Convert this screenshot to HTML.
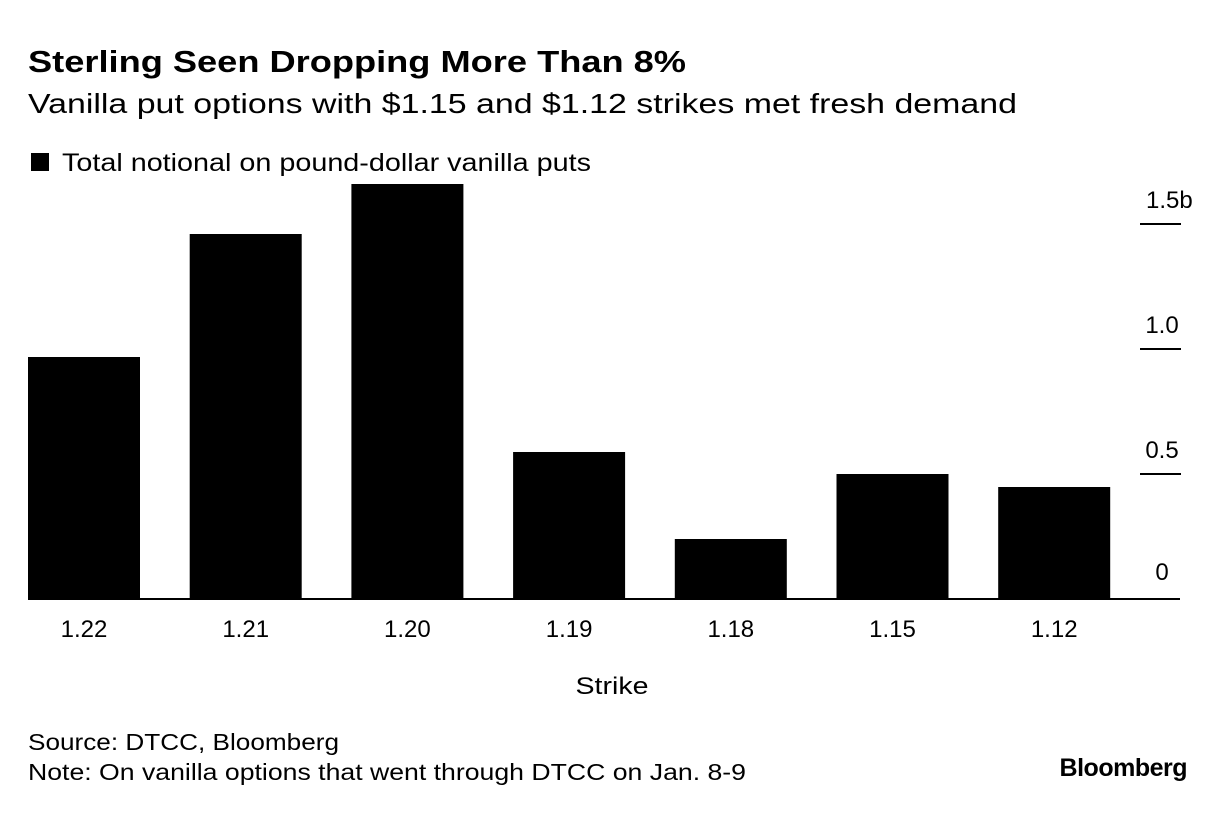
<!DOCTYPE html>
<html><head><meta charset="utf-8"><style>
body{margin:0;background:#fff;width:1225px;height:826px;overflow:hidden;font-family:"Liberation Sans",sans-serif;color:#000}
svg{position:absolute;left:0;top:0}
</style></head><body>
<svg width="1225" height="826">
<text x="28" y="72" font-size="31" font-weight="bold" textLength="658" lengthAdjust="spacingAndGlyphs">Sterling Seen Dropping More Than 8%</text>
<text x="28" y="113" font-size="28" textLength="989" lengthAdjust="spacingAndGlyphs">Vanilla put options with $1.15 and $1.12 strikes met fresh demand</text>
<rect x="31" y="153" width="18" height="18" fill="#000"/>
<text x="62" y="171" font-size="25" textLength="529" lengthAdjust="spacingAndGlyphs">Total notional on pound-dollar vanilla puts</text>
<g id="bars"></g>
<g id="yaxis"></g>
<g id="xaxis"></g>
<line x1="28" y1="599" x2="1180" y2="599" stroke="#000" stroke-width="2"/>
<text x="612" y="694" font-size="24" text-anchor="middle" textLength="73" lengthAdjust="spacingAndGlyphs">Strike</text>
<text x="28" y="750" font-size="23" textLength="311" lengthAdjust="spacingAndGlyphs">Source: DTCC, Bloomberg</text>
<text x="28" y="780" font-size="23" textLength="718" lengthAdjust="spacingAndGlyphs">Note: On vanilla options that went through DTCC on Jan. 8-9</text>
<text x="1187" y="776" font-size="25" font-weight="bold" text-anchor="end" letter-spacing="-0.5">Bloomberg</text>
</svg>
<script>
const categories=["1.22","1.21","1.20","1.19","1.18","1.15","1.12"];
const values=[0.968,1.46,1.66,0.588,0.24,0.5,0.448];
const ticks=[0,0.5,1.0,1.5];
const tickLabels=["0","0.5","1.0","1.5b"];
const NS="http://www.w3.org/2000/svg";
const y=v=>599-v*250;
const x=i=>28+i*161.7;
const bw=112;
const bars=document.getElementById('bars'),xa=document.getElementById('xaxis'),ya=document.getElementById('yaxis');
categories.forEach((c,i)=>{
 const r=document.createElementNS(NS,'rect');
 r.setAttribute('x',x(i));r.setAttribute('width',bw);
 r.setAttribute('y',y(values[i]));r.setAttribute('height',y(0)-y(values[i]));
 r.setAttribute('fill','#000');
 
 
 bars.appendChild(r);
 const t=document.createElementNS(NS,'text');
 t.setAttribute('x',x(i)+bw/2);t.setAttribute('y',637);
 t.setAttribute('font-size','24');t.setAttribute('text-anchor','middle');
 t.textContent=c;
 
 
 xa.appendChild(t);
});
ticks.forEach((v,i)=>{
 if(v>0){
 const l=document.createElementNS(NS,'line');
 l.setAttribute('x1',1140);l.setAttribute('x2',1181);
 l.setAttribute('y1',y(v));l.setAttribute('y2',y(v));
 l.setAttribute('stroke','#000');l.setAttribute('stroke-width','2');
 
 
 ya.appendChild(l);}
 const t=document.createElementNS(NS,'text');
 t.setAttribute('x',v===1.5?1146:1162);t.setAttribute('y',y(v)-16+(v===0?-3:0));
 t.setAttribute('font-size','24');t.setAttribute('text-anchor',v===1.5?'start':'middle');
 t.textContent=tickLabels[i];
 
 
 ya.appendChild(t);
});
</script>
</body></html>
